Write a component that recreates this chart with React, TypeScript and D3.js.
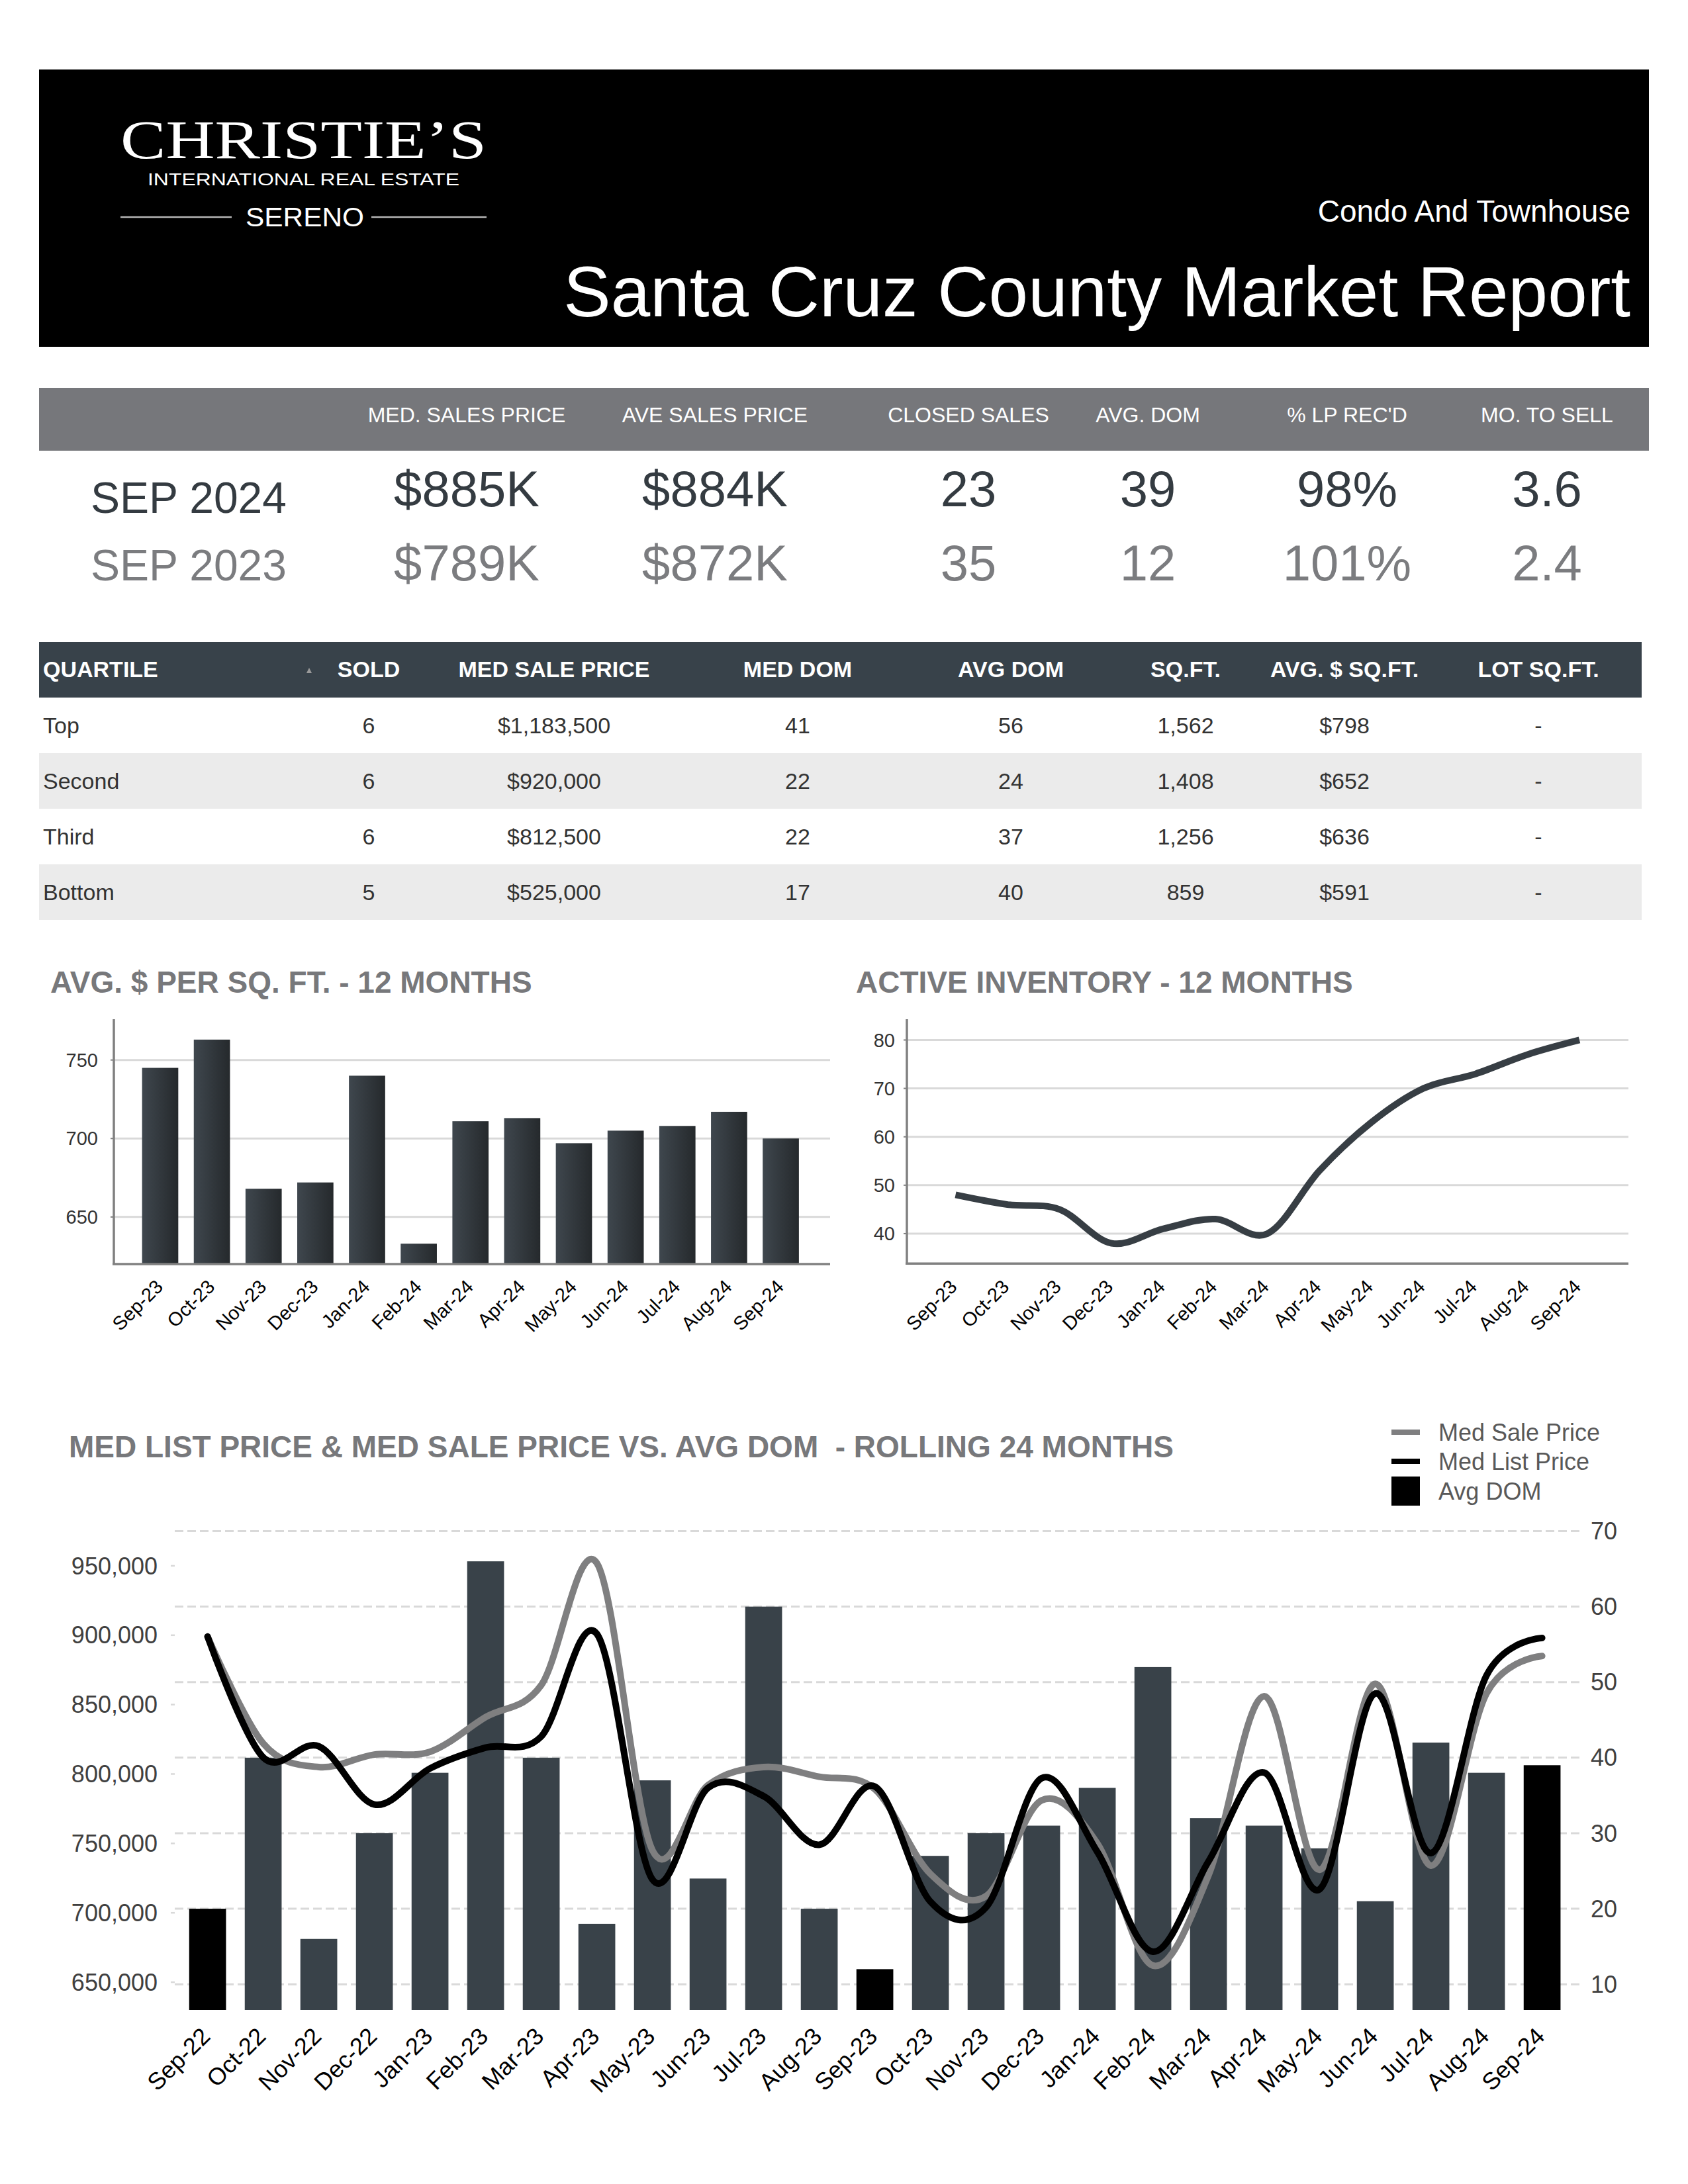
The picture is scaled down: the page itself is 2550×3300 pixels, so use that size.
import React from 'react';
import * as d3 from 'd3';

const FONT = "'Liberation Sans', Arial, Helvetica, sans-serif";
const SERIF = "'Liberation Serif', 'Times New Roman', serif";

// ---------- KPI header ----------
const kpiHeaders = ["MED. SALES PRICE", "AVE SALES PRICE", "CLOSED SALES", "AVG. DOM", "% LP REC'D", "MO. TO SELL"];
const kpiCurrentLabel = "SEP 2024";
const kpiPriorLabel = "SEP 2023";
const kpiCurrent = ["$885K", "$884K", "23", "39", "98%", "3.6"];
const kpiPrior = ["$789K", "$872K", "35", "12", "101%", "2.4"];

// ---------- Quartile table ----------
const quartileHeaders = ["QUARTILE", "SOLD", "MED SALE PRICE", "MED DOM", "AVG DOM", "SQ.FT.", "AVG. $ SQ.FT.", "LOT SQ.FT."];
const quartileNames = ["Top", "Second", "Third", "Bottom"];
const quartileSold = ["6", "6", "6", "5"];
const quartileMedPrice = ["$1,183,500", "$920,000", "$812,500", "$525,000"];
const quartileMedDom = ["41", "22", "22", "17"];
const quartileAvgDom = ["56", "24", "37", "40"];
const quartileSqft = ["1,562", "1,408", "1,256", "859"];
const quartileAvgPpsf = ["$798", "$652", "$636", "$591"];
const quartileLot = ["-", "-", "-", "-"];

// ---------- 12 month charts ----------
const months12 = ["Sep-23", "Oct-23", "Nov-23", "Dec-23", "Jan-24", "Feb-24", "Mar-24", "Apr-24", "May-24", "Jun-24", "Jul-24", "Aug-24", "Sep-24"];
const avgPricePerSqft = [745, 763, 668, 672, 740, 633, 711, 713, 697, 705, 708, 717, 700];
const ppsfTicks = [650, 700, 750];
const activeInventory = [48, 46, 45, 38, 41, 43, 40, 53, 63, 70, 73, 77, 80];
const inventoryTicks = [40, 50, 60, 70, 80];

// ---------- 24 month chart ----------
const months24 = ["Sep-22", "Oct-22", "Nov-22", "Dec-22", "Jan-23", "Feb-23", "Mar-23", "Apr-23", "May-23", "Jun-23", "Jul-23", "Aug-23", "Sep-23", "Oct-23", "Nov-23", "Dec-23", "Jan-24", "Feb-24", "Mar-24", "Apr-24", "May-24", "Jun-24", "Jul-24", "Aug-24", "Sep-24"];
const avgDom = [20, 40, 16, 30, 38, 66, 40, 18, 37, 24, 60, 20, 12, 27, 30, 31, 36, 52, 32, 31, 28, 21, 42, 38, 39];
const medSalePrice = [899000, 822000, 805000, 814000, 816000, 841000, 864000, 952000, 745000, 792000, 805000, 798000, 789000, 728000, 712000, 781000, 750000, 662000, 727000, 856000, 731000, 865000, 734000, 858000, 885000];
const medListPrice = [899000, 812000, 820000, 778000, 804000, 819000, 827000, 901000, 724000, 790000, 784000, 749000, 791000, 708000, 704000, 797000, 744000, 672000, 737000, 801000, 717000, 858000, 743000, 871000, 898000];
const priceTicks = [650000, 700000, 750000, 800000, 850000, 900000, 950000];
const domTicks = [10, 20, 30, 40, 50, 60, 70];
const highlightMonths = ["Sep-22", "Sep-23", "Sep-24"];
const legendLabels = ["Med Sale Price", "Med List Price", "Avg DOM"];

const SLATE = "#394249";
const TITLE_GRAY = "#77787b";

export default function App() {
  // layout columns
  const kpiX = [705, 1080, 1463, 1734, 2035, 2337];
  const qX = [65, 557, 837, 1205, 1527, 1791, 2031, 2324];
  const qCols = [quartileNames, quartileSold, quartileMedPrice, quartileMedDom, quartileAvgDom, quartileSqft, quartileAvgPpsf, quartileLot];

  // chart 1
  const x1 = d3.scaleBand<string>().domain(months12).range([202.9, 1218.6]).paddingInner(0.3).paddingOuter(0.15);
  const y1 = d3.scaleLinear().domain([620, 776]).range([1910, 1540]);

  // chart 2
  const x2 = d3.scalePoint<string>().domain(months12).range([1443.5, 2386]);
  const y2 = d3.scaleLinear().domain([33.8, 84.3]).range([1909.3, 1540]);
  const invLine = d3.line<number>()
    .x((_, i) => x2(months12[i]) as number)
    .y((d) => y2(d))
    .curve(d3.curveCatmullRom.alpha(0));

  // chart 3
  const x3 = d3.scaleBand<string>().domain(months24).range([271.6, 2371.6]).paddingInner(0.337).paddingOuter(0.1685);
  const yDom = d3.scaleLinear().domain([6.6, 70]).range([3037, 2313.5]);
  const yPrice = d3.scaleLinear().domain([630000, 975000]).range([3037, 2313.5]);
  const bw3 = x3.bandwidth();
  const priceLine = d3.line<number>()
    .x((_, i) => (x3(months24[i]) as number) + bw3 / 2)
    .y((d) => yPrice(d))
    .curve(d3.curveCatmullRom.alpha(0));
  const fmt = d3.format(",");

  return (
    <svg width={2550} height={3300} viewBox="0 0 2550 3300" style={{ position: 'absolute', left: 0, top: 0, background: '#fff' }} fontFamily={FONT}>
      <defs>
        <linearGradient id="barGrad" x1="0" x2="1" y1="0" y2="0">
          <stop offset="0%" stopColor="#3f474e" />
          <stop offset="100%" stopColor="#25292c" />
        </linearGradient>
      </defs>
      <rect x={0} y={0} width={2550} height={3300} fill="#fff" />

      {/* ===== Header ===== */}
      <rect x={59} y={105} width={2432} height={419} fill="#000" />
      <text x={182} y={239} fontFamily={SERIF} fontSize={82} fill="#fff" textLength={553} lengthAdjust="spacingAndGlyphs">CHRISTIE’S</text>
      <text x={223} y={280} fontSize={25} fill="#fff" textLength={471} lengthAdjust="spacingAndGlyphs">INTERNATIONAL REAL ESTATE</text>
      <line x1={182} x2={350} y1={328} y2={328} stroke="#b5b5b5" strokeWidth={2.5} />
      <line x1={561} x2={735} y1={328} y2={328} stroke="#b5b5b5" strokeWidth={2.5} />
      <text x={371} y={342} fontSize={40} fill="#fff" textLength={179} lengthAdjust="spacingAndGlyphs">SERENO</text>
      <text x={2463} y={335} fontSize={46} fill="#fff" textAnchor="end">Condo And Townhouse</text>
      <text x={2463} y={478} fontSize={107} fill="#fff" textAnchor="end">Santa Cruz County Market Report</text>

      {/* ===== KPI strip ===== */}
      <rect x={59} y={586} width={2432} height={95} fill="#76777b" />
      {kpiHeaders.map((h, i) => (
        <text key={h} x={kpiX[i]} y={638} fontSize={32} fill="#fff" textAnchor="middle">{h}</text>
      ))}
      <text x={137} y={775} fontSize={66} fill="#343b41">{kpiCurrentLabel}</text>
      <text x={137} y={877} fontSize={66} fill="#7b7c7f">{kpiPriorLabel}</text>
      {kpiCurrent.map((v, i) => (
        <text key={'c' + i} x={kpiX[i]} y={765} fontSize={76} fill="#343b41" textAnchor="middle">{v}</text>
      ))}
      {kpiPrior.map((v, i) => (
        <text key={'p' + i} x={kpiX[i]} y={877} fontSize={76} fill="#7b7c7f" textAnchor="middle">{v}</text>
      ))}

      {/* ===== Quartile table ===== */}
      <rect x={59} y={970} width={2421} height={84} fill="#38424a" />
      {quartileHeaders.map((h, i) => (
        <text key={h} x={qX[i]} y={1023} fontSize={34} fontWeight="bold" fill="#fff" textAnchor={i === 0 ? 'start' : 'middle'}>{h}</text>
      ))}
      <path d="M463,1017 L467,1009 L471,1017 Z" fill="#9a9a9a" />
      {quartileNames.map((q, r) => (
        <g key={q}>
          <rect x={59} y={1054 + 84 * r} width={2421} height={84} fill={r % 2 === 1 ? '#ebebeb' : '#fff'} />
          {qCols.map((col, c) => (
            <text key={c} x={qX[c]} y={1108 + 84 * r} fontSize={34} fill="#333" textAnchor={c === 0 ? 'start' : 'middle'}>{col[r]}</text>
          ))}
        </g>
      ))}

      {/* ===== Chart 1: Avg $ per sq ft ===== */}
      <text x={76} y={1500} fontSize={46} fontWeight="bold" fill={TITLE_GRAY}>AVG. $ PER SQ. FT. - 12 MONTHS</text>
      {ppsfTicks.map((t) => (
        <g key={t}>
          <line x1={172} x2={1254} y1={y1(t)} y2={y1(t)} stroke="#d9d9d9" strokeWidth={3} />
          <line x1={167} x2={172} y1={y1(t)} y2={y1(t)} stroke="#808080" strokeWidth={2} />
          <text x={148} y={y1(t)} dy="0.35em" fontSize={29} fill="#333" textAnchor="end">{t}</text>
        </g>
      ))}
      {avgPricePerSqft.map((v, i) => (
        <rect key={months12[i]} x={x1(months12[i])} y={y1(v)} width={x1.bandwidth()} height={1910 - y1(v)} fill="url(#barGrad)" />
      ))}
      <line x1={172} x2={172} y1={1540} y2={1910} stroke="#808080" strokeWidth={3.5} />
      <line x1={170} x2={1254} y1={1910} y2={1910} stroke="#808080" strokeWidth={3.5} />
      {months12.map((m) => (
        <text key={m} transform={`translate(${(x1(m) as number) + x1.bandwidth() / 2 + 6},1946) rotate(-45)`} fontSize={29} fill="#000" textAnchor="end">{m}</text>
      ))}

      {/* ===== Chart 2: Active inventory ===== */}
      <text x={1293} y={1500} fontSize={46} fontWeight="bold" fill={TITLE_GRAY}>ACTIVE INVENTORY - 12 MONTHS</text>
      {inventoryTicks.map((t) => (
        <g key={t}>
          <line x1={1370} x2={2460} y1={y2(t)} y2={y2(t)} stroke="#d9d9d9" strokeWidth={3} />
          <line x1={1365} x2={1370} y1={y2(t)} y2={y2(t)} stroke="#808080" strokeWidth={2} />
          <text x={1352} y={y2(t)} dy="0.35em" fontSize={29} fill="#333" textAnchor="end">{t}</text>
        </g>
      ))}
      <line x1={1370} x2={1370} y1={1540} y2={1909.3} stroke="#808080" strokeWidth={3.5} />
      <line x1={1368} x2={2460} y1={1909.3} y2={1909.3} stroke="#808080" strokeWidth={3.5} />
      <path d={invLine(activeInventory) || ''} fill="none" stroke="#373e44" strokeWidth={10} />
      {months12.map((m) => (
        <text key={m} transform={`translate(${(x2(m) as number) + 4},1946) rotate(-45)`} fontSize={29} fill="#000" textAnchor="end">{m}</text>
      ))}

      {/* ===== Chart 3: Med list / sale vs avg DOM ===== */}
      <text x={104} y={2202} fontSize={46} fontWeight="bold" fill={TITLE_GRAY} style={{ whiteSpace: 'pre' }}>MED LIST PRICE &amp; MED SALE PRICE VS. AVG DOM  - ROLLING 24 MONTHS</text>

      {/* legend */}
      <line x1={2102} x2={2145} y1={2164} y2={2164} stroke="#7f7f80" strokeWidth={8} />
      <text x={2173} y={2164} dy="0.35em" fontSize={36} fill="#595959">{legendLabels[0]}</text>
      <line x1={2102} x2={2145} y1={2208} y2={2208} stroke="#000" strokeWidth={8} />
      <text x={2173} y={2208} dy="0.35em" fontSize={36} fill="#595959">{legendLabels[1]}</text>
      <rect x={2102} y={2231} width={43} height={44} fill="#000" />
      <text x={2173} y={2253} dy="0.35em" fontSize={36} fill="#595959">{legendLabels[2]}</text>

      {domTicks.map((t) => (
        <g key={t}>
          <line x1={264} x2={2388} y1={yDom(t)} y2={yDom(t)} stroke="#d9d9d9" strokeWidth={3} strokeDasharray="13 6" />
          <text x={2403} y={yDom(t)} dy="0.35em" fontSize={36} fill="#404040">{t}</text>
        </g>
      ))}
      {priceTicks.map((t) => (
        <g key={t}>
          <line x1={258} x2={264} y1={yPrice(t)} y2={yPrice(t)} stroke="#d9d9d9" strokeWidth={2.5} />
          <text x={238} y={yPrice(t)} dy="0.35em" fontSize={36} fill="#404040" textAnchor="end">{fmt(t)}</text>
        </g>
      ))}
      {avgDom.map((v, i) => (
        <rect key={months24[i]} x={x3(months24[i])} y={yDom(v)} width={bw3} height={3037 - yDom(v)}
          fill={highlightMonths.includes(months24[i]) ? '#000' : SLATE} />
      ))}
      <path d={priceLine(medSalePrice) || ''} fill="none" stroke="#7f7f80" strokeWidth={10} strokeLinecap="round" />
      <path d={priceLine(medListPrice) || ''} fill="none" stroke="#000" strokeWidth={10} strokeLinecap="round" />
      {months24.map((m) => (
        <text key={m} transform={`translate(${(x3(m) as number) + bw3 / 2 + 6},3079) rotate(-45)`} fontSize={36} fill="#000" textAnchor="end">{m}</text>
      ))}
    </svg>
  );
}
